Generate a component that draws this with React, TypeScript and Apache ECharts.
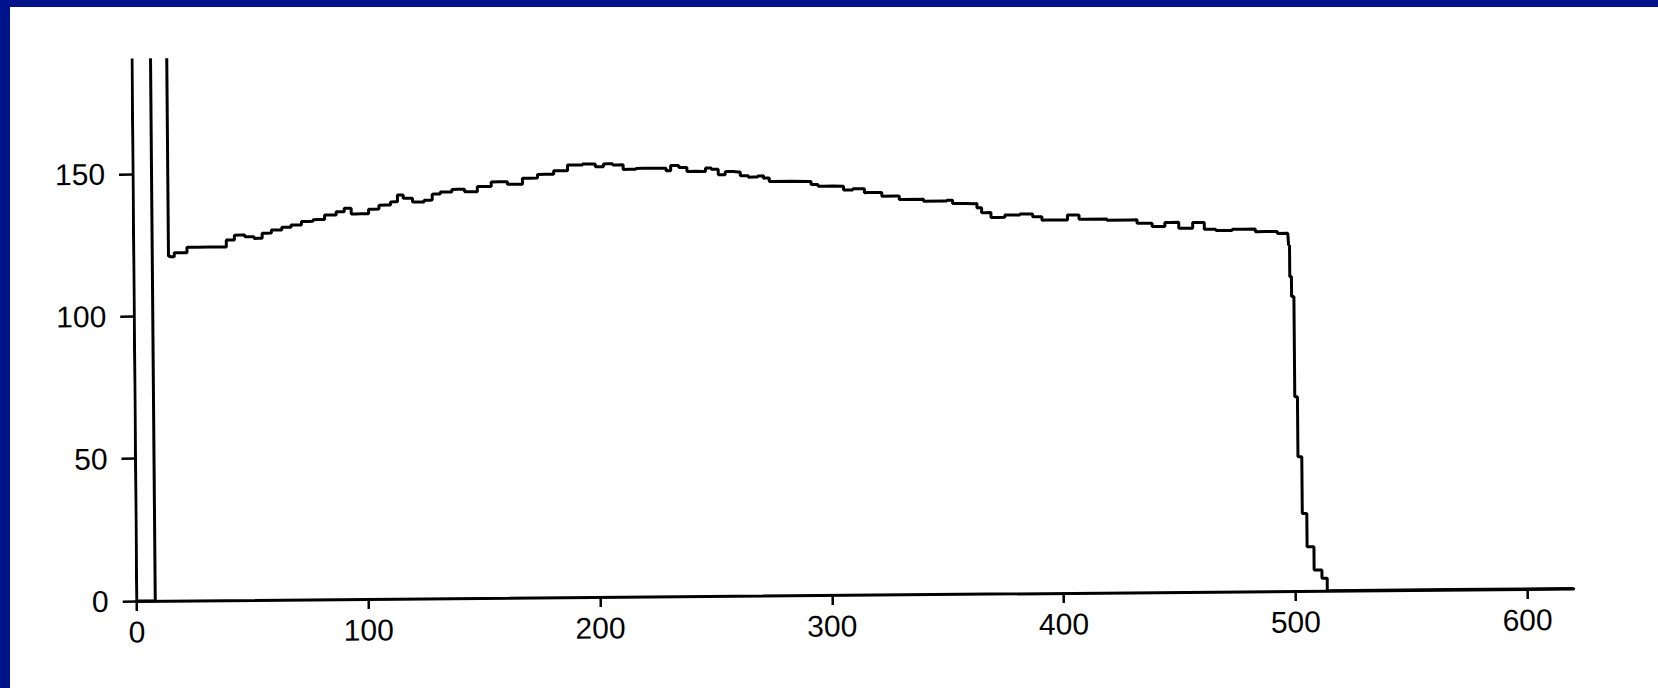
import React, { useEffect, useRef } from "react";
import * as echarts from "echarts";

// Off-scale value used for the clipped spikes near x = 0 (they run past the top of the plot)
const OFF_SCALE = 400;

// Spikes at the start of the trace
const spikeX = [0, 0, 8, 8, 15, 15];
const spikeY = [OFF_SCALE, 0, 0, OFF_SCALE, OFF_SCALE, 121];

// Rising part of the profile
const riseX = [16, 19, 27, 39, 41, 46, 50, 54, 57, 62, 66, 70, 75, 80, 85, 90, 92, 96, 100, 103, 109, 113, 115, 118, 123, 128, 130, 135, 140, 146, 151, 158, 165, 171, 178, 185, 190, 198, 201, 205, 209, 214];
const riseY = [120.8, 122.2, 124.1, 124.1, 126.5, 128.2, 127.6, 127.0, 128.8, 129.9, 130.8, 131.6, 132.8, 133.4, 135.0, 136.1, 137.3, 135.3, 135.3, 136.9, 138.3, 139.4, 141.8, 140.6, 139.3, 139.9, 142.0, 142.7, 143.6, 142.7, 144.5, 146.1, 145.2, 147.3, 148.6, 149.8, 151.8, 152.1, 151.1, 152.1, 151.7, 150.1];

// Slowly falling part of the profile
const fallX = [220, 229, 231, 233, 238, 240, 246, 248, 251, 254, 257, 261, 263, 268, 271, 273, 276, 292, 293, 298, 306, 307, 314, 317, 329, 332, 350, 352, 355, 363, 365, 367, 373, 379, 386, 390, 394, 400, 406, 410, 430, 436, 443, 447, 455, 459, 465, 469, 479, 489, 498];
const fallY = [150.4, 150.4, 149.5, 151.3, 150.6, 149.2, 149.1, 150.3, 149.9, 147.9, 149.0, 148.8, 147.5, 147.0, 147.4, 146.6, 145.4, 145.3, 144.2, 143.6, 143.5, 142.2, 142.6, 141.2, 139.9, 138.7, 138.0, 138.3, 137.1, 137.0, 135.5, 133.8, 132.1, 132.9, 133.2, 132.2, 131.0, 131.0, 132.7, 131.2, 130.8, 129.6, 128.4, 129.8, 127.7, 129.7, 127.3, 126.8, 127.2, 126.3, 125.6];

// Steep drop and tail
const dropX = [498.6, 498.8, 500, 500.8, 502.3, 504.1, 506.2, 510, 512.9, 514.5, 620];
const dropY = [121.5, 110.4, 103.4, 68.2, 47.1, 27.2, 15.5, 7.3, 4.4, 0, 0];

// Axis ticks
const xTicks = [0, 100, 200, 300, 400, 500, 600];
const yTicks = [0, 50, 100, 150];
const X_MAX = 620;
const Y_MAX = 190;

const allX = [...spikeX, ...riseX, ...fallX, ...dropX];
const allY = [...spikeY, ...riseY, ...fallY, ...dropY];
const seriesData = allX.map((x, i) => [x, allY[i]]);

const labelFont = {
  color: "#000",
  fontFamily: "Liberation Sans",
  fontSize: 30,
};

export default function App() {
  const ref = useRef<HTMLDivElement>(null);

  useEffect(() => {
    if (!ref.current) return;
    const chart = echarts.init(ref.current, null, { renderer: "svg" });
    chart.setOption({
      animation: false,
      backgroundColor: "transparent",
      grid: {
        left: 134.5,
        top: 54,
        width: 1437,
        height: 541,
        containLabel: false,
        outerBoundsMode: "none",
      },
      xAxis: {
        type: "value",
        min: 0,
        max: X_MAX,
        interval: 100,
        splitLine: { show: false },
        axisLine: { show: true, onZero: false, lineStyle: { color: "#000", width: 3 } },
        axisTick: {
          show: true,
          length: 10,
          customValues: xTicks,
          lineStyle: { color: "#000", width: 2.5 },
        },
        axisLabel: {
          ...labelFont,
          margin: 16,
          customValues: xTicks,
        },
      },
      yAxis: {
        type: "value",
        min: 0,
        max: Y_MAX,
        interval: 50,
        splitLine: { show: false },
        axisLine: { show: false },
        axisTick: {
          show: true,
          length: 14,
          customValues: yTicks,
          lineStyle: { color: "#000", width: 2.5 },
        },
        axisLabel: {
          ...labelFont,
          margin: 28,
          customValues: yTicks,
        },
      },
      series: [
        {
          type: "line",
          data: seriesData,
          step: "middle",
          showSymbol: false,
          symbol: "none",
          clip: true,
          lineStyle: { color: "#000", width: 3 },
          z: 5,
        },
      ],
    });
    return () => chart.dispose();
  }, []);

  return (
    <div
      style={{
        position: "fixed",
        left: 0,
        top: 0,
        width: 1658,
        height: 688,
        background: "#00138A",
        overflow: "hidden",
      }}
    >
      <div
        style={{
          position: "absolute",
          left: 10,
          top: 7,
          right: 0,
          bottom: 0,
          background: "#fff",
        }}
      />
      <div
        ref={ref}
        style={{
          position: "absolute",
          left: 0,
          top: 0,
          width: 1658,
          height: 688,
          transform: "rotate(-0.5deg)",
        }}
      />
    </div>
  );
}
